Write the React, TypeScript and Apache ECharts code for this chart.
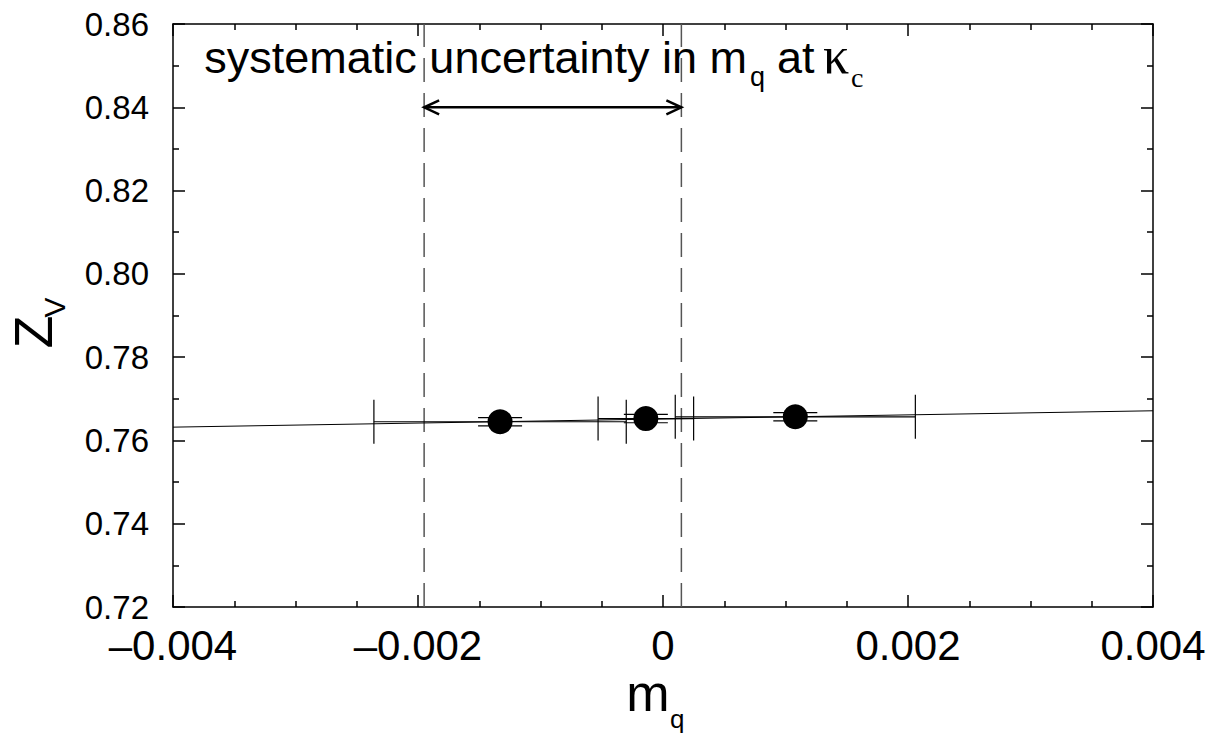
import React, { useEffect, useRef } from "react";
import * as echarts from "echarts";

// ---- data ----
const xRange = [-0.004, 0.004];
const xStep = 0.002;
const yRange = [0.72, 0.86];
const yStep = 0.02;

const pointX = [-0.00133, -0.00014, 0.00108];
const pointY = [0.76448, 0.76525, 0.76568];
const pointXErr = [0.00103, 0.00039, 0.00098];
const pointYErr = [0.001, 0.001, 0.001];

const fitX = [-0.004, 0.004];
const fitY = [0.76319, 0.76712];

const kappaBoundsX = [-0.00195, 0.00015];
const arrowY = 0.84;

const SANS = '"Liberation Sans", Arial, Helvetica, sans-serif';
const SERIF = '"Liberation Serif", "Times New Roman", serif';

function central(baseline: number, fs: number, serif = false) {
  return baseline - (serif ? 0.3375 : 0.3465) * fs;
}

function fmtX(v: number) {
  if (Math.abs(v) < 1e-12) return "0";
  const s = Math.abs(v).toFixed(3);
  return v < 0 ? "\u2013" + s : s;
}

export default function App() {
  const ref = useRef<HTMLDivElement>(null);
  useEffect(() => {
    if (!ref.current) return;
    const chart = echarts.init(ref.current, undefined, { renderer: "svg" });

    const axisLine = { show: true, onZero: false, lineStyle: { color: "#000", width: 1.5 } };
    const tick = { show: true, inside: true, length: 12, lineStyle: { color: "#000", width: 1.5 } };
    const xMinor = { show: true, splitNumber: 4, length: 6, lineStyle: { color: "#000", width: 1.5 } };
    const yMinor = { show: true, splitNumber: 2, length: 6, lineStyle: { color: "#000", width: 1.5 } };

    const lineStyle = { stroke: "#000", lineWidth: 1.2 };
    const cap = 22;

    const option: any = {
      animation: false,
      backgroundColor: "#fff",
      grid: { left: 173, right: 65, top: 24, bottom: 129, containLabel: false },
      xAxis: [
        {
          type: "value",
          position: "bottom",
          min: xRange[0],
          max: xRange[1],
          interval: xStep,
          axisLine,
          axisTick: tick,
          minorTick: xMinor,
          splitLine: { show: false },
          minorSplitLine: { show: false },
          axisLabel: {
            show: true,
            showMinLabel: true,
            showMaxLabel: true,
            fontSize: 42,
            fontFamily: SANS,
            color: "#000",
            margin: 17,
            formatter: fmtX,
          },
        },
        {
          type: "value",
          position: "top",
          min: xRange[0],
          max: xRange[1],
          interval: xStep,
          axisLine,
          axisTick: tick,
          minorTick: xMinor,
          splitLine: { show: false },
          axisLabel: { show: false },
        },
      ],
      yAxis: [
        {
          type: "value",
          position: "left",
          min: yRange[0],
          max: yRange[1],
          interval: yStep,
          axisLine,
          axisTick: tick,
          minorTick: yMinor,
          splitLine: { show: false },
          minorSplitLine: { show: false },
          axisLabel: {
            show: true,
            showMinLabel: true,
            showMaxLabel: true,
            fontSize: 33,
            fontFamily: SANS,
            color: "#000",
            margin: 24,
            formatter: (v: number) => v.toFixed(2),
          },
        },
        {
          type: "value",
          position: "right",
          min: yRange[0],
          max: yRange[1],
          interval: yStep,
          axisLine,
          axisTick: tick,
          minorTick: yMinor,
          splitLine: { show: false },
          axisLabel: { show: false },
        },
      ],
      series: [
        {
          type: "line",
          xAxisIndex: 0,
          yAxisIndex: 0,
          data: fitX.map((x, i) => [x, fitY[i]]),
          showSymbol: false,
          symbol: "none",
          lineStyle: { color: "#000", width: 1 },
          z: 2,
        },
        {
          // dashed vertical lines bounding the systematic uncertainty
          type: "custom",
          xAxisIndex: 0,
          yAxisIndex: 0,
          z: 1,
          data: kappaBoundsX.map((x) => [x, yRange[0], yRange[1]]),
          encode: { x: 0, y: [1, 2] },
          renderItem: (params: any, api: any) => {
            const p1 = api.coord([api.value(0), api.value(1)]);
            const p2 = api.coord([api.value(0), api.value(2)]);
            return {
              type: "line",
              shape: { x1: p1[0], y1: p1[1], x2: p2[0], y2: p2[1] },
              style: { stroke: "#555", lineWidth: 1.5, lineDash: [24, 11] },
            };
          },
        },
        {
          type: "custom",
          xAxisIndex: 0,
          yAxisIndex: 0,
          z: 3,
          data: pointX.map((x, i) => [x, pointY[i], pointXErr[i], pointYErr[i]]),
          encode: { x: 0, y: 1 },
          renderItem: (params: any, api: any) => {
            const x = api.value(0);
            const y = api.value(1);
            const xe = api.value(2);
            const ye = api.value(3);
            const l = api.coord([x - xe, y]);
            const r = api.coord([x + xe, y]);
            const t = api.coord([x, y + ye]);
            const b = api.coord([x, y - ye]);
            const seg = (x1: number, y1: number, x2: number, y2: number) => ({
              type: "line",
              shape: { x1, y1, x2, y2 },
              style: lineStyle,
            });
            return {
              type: "group",
              children: [
                seg(l[0], l[1], r[0], r[1]),
                seg(l[0], l[1] - cap, l[0], l[1] + cap),
                seg(r[0], r[1] - cap, r[0], r[1] + cap),
                seg(t[0], t[1], b[0], b[1]),
                seg(t[0] - cap, t[1], t[0] + cap, t[1]),
                seg(b[0] - cap, b[1], b[0] + cap, b[1]),
              ],
            };
          },
        },
        {
          type: "scatter",
          xAxisIndex: 0,
          yAxisIndex: 0,
          z: 4,
          symbol: "circle",
          symbolSize: 25,
          itemStyle: { color: "#000", opacity: 1 },
          data: pointX.map((x, i) => [x, pointY[i]]),
        },
        {
          type: "custom",
          xAxisIndex: 0,
          yAxisIndex: 0,
          z: 5,
          data: [[kappaBoundsX[0], kappaBoundsX[1], arrowY]],
          encode: { x: [0, 1], y: 2 },
          renderItem: (params: any, api: any) => {
            const p1 = api.coord([api.value(0), api.value(2)]);
            const p2 = api.coord([api.value(1), api.value(2)]);
            const st = { stroke: "#000", lineWidth: 2.5, fill: "none" };
            const hl = 15;
            const hw = 7;
            return {
              type: "group",
              children: [
                { type: "line", shape: { x1: p1[0], y1: p1[1], x2: p2[0], y2: p2[1] }, style: st },
                {
                  type: "polyline",
                  shape: { points: [[p1[0] + hl, p1[1] - hw], [p1[0], p1[1]], [p1[0] + hl, p1[1] + hw]] },
                  style: st,
                },
                {
                  type: "polyline",
                  shape: { points: [[p2[0] - hl, p2[1] - hw], [p2[0], p2[1]], [p2[0] - hl, p2[1] + hw]] },
                  style: st,
                },
              ],
            };
          },
        },
      ],
      graphic: [
        // title annotation
        {
          type: "text",
          x: 747,
          y: central(73.5, 45),
          style: { text: "systematic uncertainty in m", font: `45px ${SANS}`, fill: "#000", align: "right", verticalAlign: "middle" },
        },
        {
          type: "text",
          x: 750,
          y: central(86, 27),
          style: { text: "q", font: `27px ${SANS}`, fill: "#000", align: "left", verticalAlign: "middle" },
        },
        {
          type: "text",
          x: 777,
          y: central(73.5, 45),
          style: { text: "at", font: `45px ${SANS}`, fill: "#000", align: "left", verticalAlign: "middle" },
        },
        {
          type: "text",
          x: 823,
          y: central(73.5, 52, true),
          style: { text: "\u03ba", font: `52px ${SERIF}`, fill: "#000", align: "left", verticalAlign: "middle" },
        },
        {
          type: "text",
          x: 851,
          y: central(87, 28, true),
          style: { text: "c", font: `28px ${SERIF}`, fill: "#000", align: "left", verticalAlign: "middle" },
        },
        // x axis name
        {
          type: "text",
          x: 648,
          y: central(711.5, 52),
          style: { text: "m", font: `52px ${SANS}`, fill: "#000", align: "center", verticalAlign: "middle" },
        },
        {
          type: "text",
          x: 670,
          y: central(728.5, 26),
          style: { text: "q", font: `26px ${SANS}`, fill: "#000", align: "left", verticalAlign: "middle" },
        },
        // y axis name (rotated)
        {
          type: "text",
          x: 32.5,
          y: 332,
          rotation: Math.PI / 2,
          style: { text: "Z", font: `54px ${SANS}`, fill: "#000", align: "center", verticalAlign: "middle" },
        },
        {
          type: "text",
          x: 54,
          y: 307.5,
          rotation: Math.PI / 2,
          style: { text: "V", font: `30px ${SANS}`, fill: "#000", align: "center", verticalAlign: "middle" },
        },
      ],
    };

    chart.setOption(option);
    return () => chart.dispose();
  }, []);

  return (
    <div
      ref={ref}
      style={{ position: "fixed", left: 0, top: 0, width: 1218, height: 736, background: "#fff" }}
    />
  );
}
